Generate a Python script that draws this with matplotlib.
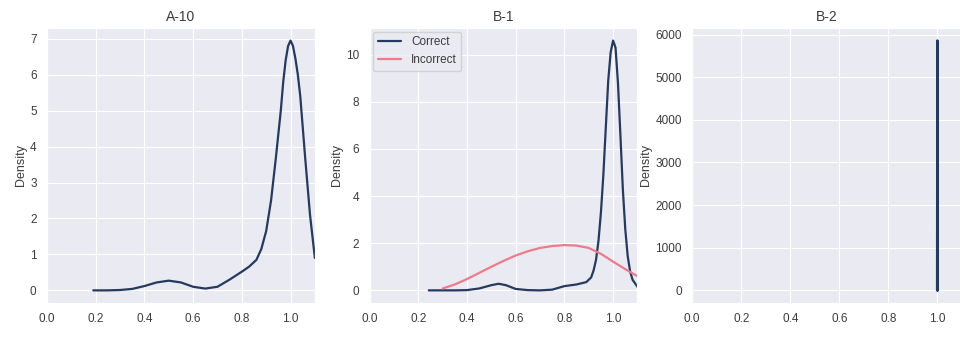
import matplotlib
matplotlib.use("Agg")
import matplotlib.pyplot as plt
import seaborn as sns

sns.set_style("darkgrid")
plt.rcParams['font.family'] = ['Liberation Sans', 'DejaVu Sans']
plt.rcParams['text.color'] = '#3c3c3c'
plt.rcParams['axes.labelcolor'] = '#3c3c3c'
plt.rcParams['xtick.color'] = '#3c3c3c'
plt.rcParams['ytick.color'] = '#3c3c3c'

navy = '#243a5e'
pink = '#ee7a8a'

# A-10, correct answers (density curve)
a10_x = [0.19, 0.25, 0.30, 0.35, 0.40, 0.45, 0.50, 0.55, 0.60, 0.65, 0.70, 0.75, 0.80,
         0.83, 0.86, 0.88, 0.90, 0.92, 0.94, 0.96, 0.97, 0.98, 0.99, 1.00, 1.01, 1.02,
         1.03, 1.04, 1.06, 1.08, 1.10]
a10_y = [0.0, 0.0, 0.01, 0.04, 0.12, 0.22, 0.27, 0.22, 0.10, 0.05, 0.10, 0.30, 0.52,
         0.66, 0.85, 1.15, 1.65, 2.5, 3.7, 5.0, 5.8, 6.4, 6.8, 6.95, 6.8, 6.45,
         6.0, 5.4, 3.7, 2.1, 0.9]

# B-1, correct / incorrect
b1_x = [0.243, 0.30, 0.35, 0.40, 0.45, 0.50, 0.53, 0.56, 0.60, 0.65, 0.70, 0.75, 0.80,
        0.85, 0.89, 0.91, 0.92, 0.93, 0.94, 0.95, 0.96, 0.97, 0.98, 0.99, 1.00, 1.01,
        1.02, 1.03, 1.04, 1.05, 1.06, 1.07, 1.08, 1.10]
b1_y = [0, 0, 0, 0.01, 0.08, 0.22, 0.28, 0.22, 0.06, 0.01, 0.0, 0.03, 0.18,
        0.25, 0.35, 0.55, 0.85, 1.3, 2.1, 3.3, 4.9, 6.9, 8.9, 10.1, 10.6, 10.3,
        8.8, 6.6, 4.3, 2.6, 1.45, 0.8, 0.45, 0.15]
b1_inc_x = [0.30, 0.35, 0.40, 0.45, 0.50, 0.55, 0.60, 0.65, 0.70, 0.75, 0.80, 0.85,
            0.90, 0.95, 1.00, 1.05, 1.10]
b1_inc_y = [0.08, 0.25, 0.48, 0.74, 1.0, 1.25, 1.48, 1.66, 1.80, 1.88, 1.92, 1.90,
            1.80, 1.55, 1.22, 0.9, 0.6]

# B-2, all answers identical -> spike at 1.0
b2_x = [0.999, 1.0, 1.001]
b2_y = [0, 5860, 0]

fig = plt.figure(figsize=(9.6, 3.38), dpi=100)
ax1 = fig.add_axes([0.049, 0.104, 0.279, 0.813])
ax2 = fig.add_axes([0.385, 0.104, 0.279, 0.813])
ax3 = fig.add_axes([0.721, 0.104, 0.281, 0.813])

ax1.plot(a10_x, a10_y, color=navy, lw=1.6)
ax2.plot(b1_x, b1_y, color=navy, lw=1.6, label='Correct')
ax2.plot(b1_inc_x, b1_inc_y, color=pink, lw=1.6, label='Incorrect')
ax3.plot(b2_x, b2_y, color=navy, lw=1.8)

for ax, t in zip([ax1, ax2, ax3], ['A-10', 'B-1', 'B-2']):
    ax.set_title(t, fontsize=10, pad=5)
    ax.set_ylabel('Density', fontsize=9, labelpad=2)
    ax.set_xlim(0, 1.1)
    ax.set_xticks([0.0, 0.2, 0.4, 0.6, 0.8, 1.0])
    ax.tick_params(labelsize=8.5, pad=4)

ax1.set_yticks(range(0, 8))
ax2.set_yticks(range(0, 11, 2))
ax3.set_yticks(range(0, 7000, 1000))

ax2.legend(loc='upper left', fontsize=8.5, borderaxespad=0.3, handlelength=2)

plt.savefig("out.png", dpi=100)
